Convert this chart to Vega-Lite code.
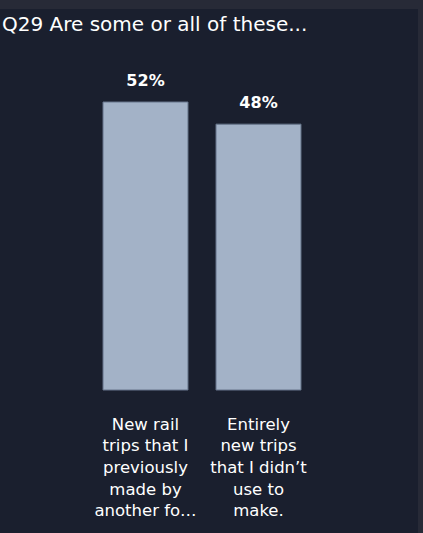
{
  "$schema": "https://vega.github.io/schema/vega-lite/v6.json",
  "width": 418,
  "height": 524,
  "autosize": {"type": "none"},
  "padding": {"top": 9, "left": 0, "right": 5, "bottom": 0},
  "background": "#272a37",
  "title": {
    "text": "Q29 Are some or all of these...",
    "anchor": "start",
    "frame": "group",
    "orient": "top",
    "offset": -42,
    "baseline": "alphabetic",
    "dx": 2,
    "font": "DejaVu Sans",
    "fontSize": 20,
    "fontWeight": "normal",
    "color": "#ffffff"
  },
  "config": {
    "view": {"fill": "#1a1f2e", "stroke": null}
  },
  "data": {
    "values": [
      {"category": "New rail trips that I previously made by another fo...", "pct": 0.52},
      {"category": "Entirely new trips that I didn't use to make.", "pct": 0.48}
    ]
  },
  "encoding": {
    "x": {
      "field": "category",
      "type": "nominal",
      "sort": null,
      "scale": {"range": [89, 315], "paddingInner": 0.248, "paddingOuter": 0.124},
      "axis": {
        "title": null,
        "offset": -143,
        "domain": false,
        "ticks": false,
        "labelAngle": 0,
        "labelPadding": 39,
        "labelBaseline": "alphabetic",
        "labelAlign": "center",
        "labelFont": "DejaVu Sans",
        "labelFontSize": 16.5,
        "labelColor": "#ffffff",
        "labelLineHeight": 21.7,
        "labelLimit": 0,
        "labelExpr": "datum.value == 'Entirely new trips that I didn\\'t use to make.' ? ['Entirely', 'new trips', 'that I didn\u2019t', 'use to', 'make.'] : ['New rail', 'trips that I', 'previously', 'made by', 'another fo\u2026']"
      }
    },
    "y": {
      "field": "pct",
      "type": "quantitative",
      "scale": {"domain": [0, 0.52], "range": [381, 93]},
      "axis": null
    }
  },
  "layer": [
    {
      "mark": {"type": "bar", "fill": "#a3b2c7", "stroke": "#66758b", "strokeWidth": 1}
    },
    {
      "mark": {"type": "text", "baseline": "alphabetic", "dy": -16, "font": "DejaVu Sans", "fontSize": 16, "fontWeight": "bold", "color": "#ffffff"},
      "encoding": {
        "text": {"field": "pct", "type": "quantitative", "format": ".0%"}
      }
    }
  ]
}
